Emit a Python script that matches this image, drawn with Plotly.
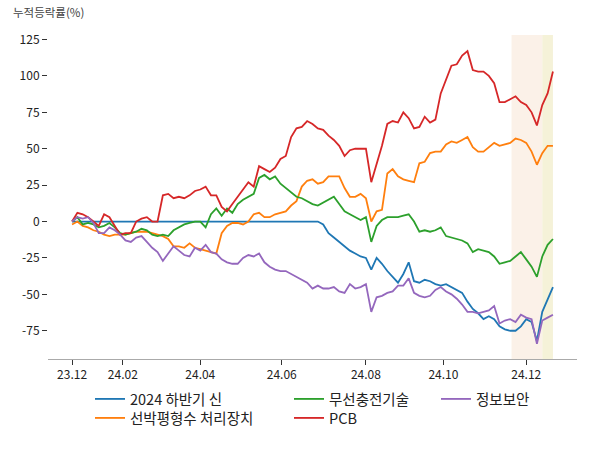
import pandas as pd
import plotly.graph_objects as go

# sample dates (every 4 calendar days from the first trading day shown)
dates = pd.date_range("2023-12-27", periods=91, freq="4D").strftime("%Y-%m-%d").tolist()

s_2024 = [0]*47 + [
    -2, -8, -11, -14, -17, -20, -22, -24, -25, -33,
    -25, -29, -34, -38, -42, -36, -28, -41, -42, -40,
    -41, -43, -44, -43, -45, -47, -49, -55, -60, -63,
    -67, -65, -67, -72, -74, -75, -75, -72, -67, -69,
    -82, -62, -53, -45]

s_ship = [
    -2, 0, -3, -4, -6, -7, -9, -10, -9, -9,
    -9, -8, -7, -7, -7, -8, -9, -10, -12, -17,
    -17, -18, -15, -18, -19, -20, -21, -22, -8, -3,
    -1, -1, -2, 0, 5, 6, 3, 3, 5, 6,
    7, 11, 14, 24, 28, 29, 26, 27, 31, 31,
    31, 23, 17, 17, 19, 16, 0, 7, 8, 33,
    36, 31, 29, 28, 27, 40, 41, 47, 48, 48,
    53, 55, 54, 56, 58, 51, 48, 48, 51, 54,
    52, 53, 54, 57, 56, 54, 48, 39, 47, 52,
    52]

s_wireless = [
    0, 3, -2, -1, -2, -4, -3, -1, -4, -8,
    -9, -8, -7, -5, -6, -9, -10, -9, -10, -6,
    -4, -2, -1, 0, 0, -4, 5, 9, 4, 9,
    6, 12, 15, 17, 19, 30, 32, 29, 31, 26,
    23, 20, 17, 16, 14, 12, 11, 13, 15, 17,
    12, 7, 5, 3, 1, 3, -14, -3, 1, 3,
    3, 3, 4, 5, 0, -7, -6, -7, -6, -4,
    -10, -11, -12, -13, -15, -21, -19, -20, -21, -24,
    -29, -28, -27, -24, -21, -26, -31, -38, -24, -16,
    -12]

s_pcb = [
    0, 6, 5, 3, 0, -3, 5, 3, -3, -9,
    -8, -8, 0, 2, 3, 0, 0, 18, 19, 16,
    17, 16, 18, 21, 22, 24, 18, 18, 10, 7,
    12, 17, 22, 27, 24, 38, 36, 34, 37, 43,
    45, 58, 64, 65, 69, 67, 64, 63, 59, 56,
    52, 45, 49, 50, 50, 50, 27, 40, 52, 67,
    69, 68, 75, 71, 64, 65, 72, 68, 70, 88,
    97, 107, 108, 114, 117, 104, 103, 103, 100, 95,
    82, 82, 84, 86, 82, 80, 75, 66, 80, 88,
    103]

s_security = [
    0, 3, 2, 3, -1, -8, -8, -4, -6, -9,
    -13, -14, -11, -10, -14, -18, -21, -27, -22, -17,
    -20, -23, -24, -18, -20, -16, -21, -22, -26, -28,
    -29, -29, -25, -23, -24, -22, -28, -31, -33, -34,
    -34, -36, -38, -40, -42, -46, -44, -46, -46, -45,
    -48, -49, -43, -46, -45, -43, -62, -52, -51, -49,
    -48, -44, -44, -39, -49, -51, -52, -51, -47, -45,
    -48, -50, -53, -57, -62, -62, -63, -62, -61, -58,
    -70, -68, -67, -69, -64, -66, -67, -84, -68, -66,
    -64]

names = ["2024 하반기 신", "선박평형수 처리장치", "무선충전기술", "PCB", "정보보안"]
series = [s_2024, s_ship, s_wireless, s_pcb, s_security]
colors = ["#1f77b4", "#ff7f0e", "#2ca02c", "#d62728", "#9467bd"]
legend_ids = ["legend", "legend2", "legend3", "legend4", "legend5"]
# legend slot (column, row) for each series
legend_slots = [(0, 0), (0, 1), (1, 0), (1, 1), (2, 0)]

tick_dates = ["2023-12-27", "2024-02-03", "2024-04-01", "2024-06-01",
              "2024-08-03", "2024-09-30", "2024-12-01"]
tick_labels = ["23.12", "24.02", "24.04", "24.06", "24.08", "24.10", "24.12"]
y_ticks = [-75, -50, -25, 0, 25, 50, 75, 100, 125]
y_labels = ["-75", "-50", "-25", "0", "25", "50", "75", "100", "125"]

shade_spans = [("2024-11-20", "2024-12-13", "#fbf1e8"),
               ("2024-12-13", "2024-12-21", "#f5f2d8")]

FONT = "Noto Sans CJK KR, Noto Sans, sans-serif"

fig = go.Figure()
for name, vals, col, lg in zip(names, series, colors, legend_ids):
    fig.add_trace(go.Scatter(
        x=dates, y=vals, mode="lines", name=name,
        line=dict(color=col, width=1.8), legend=lg))

for x0, x1, c in shade_spans:
    fig.add_shape(type="rect", xref="x", yref="paper", x0=x0, x1=x1, y0=0, y1=1,
                  fillcolor=c, line_width=0, layer="below")

legend_common = dict(orientation="v", xref="container", yref="container",
                     xanchor="left", yanchor="top", bgcolor="rgba(0,0,0,0)",
                     font=dict(family=FONT, size=14.5, color="#222"),
                     tracegroupgap=0)
col_x = [90, 289, 436]
row_top = [383, 402]
legends = {}
for lg, (c, r) in zip(legend_ids, legend_slots):
    legends[lg] = dict(x=col_x[c]/600, y=1-row_top[r]/450, **legend_common)

fig.update_layout(
    width=600, height=450,
    margin=dict(l=48, r=23, t=35, b=91, autoexpand=False),
    paper_bgcolor="white", plot_bgcolor="white",
    font=dict(family=FONT, size=12, color="#222"),
    showlegend=True,
    xaxis=dict(type="date", range=["2023-12-09", "2025-01-08"],
               tickvals=tick_dates, ticktext=tick_labels,
               showline=True, linecolor="#aaaaaa", linewidth=1,
               ticks="outside", ticklen=5, tickcolor="#333", tickwidth=1,
               showgrid=False, zeroline=False,
               tickfont=dict(family=FONT, size=12, color="#222")),
    yaxis=dict(range=[-94.4, 128.1], tickvals=y_ticks, ticktext=y_labels,
               showline=False, ticks="outside", ticklen=5, tickcolor="#333",
               tickwidth=1, showgrid=False, zeroline=False,
               tickfont=dict(family=FONT, size=12, color="#222")),
    annotations=[dict(text="누적등락률(%)", xref="paper", yref="paper",
                      x=-37/529, y=1+23/324, xanchor="left", yanchor="middle",
                      showarrow=False,
                      font=dict(family=FONT, size=11.5, color="#444"))],
    **legends,
)

fig.write_html("out.html", config={"displayModeBar": False},
               post_script="document.body.style.margin='0px';")
